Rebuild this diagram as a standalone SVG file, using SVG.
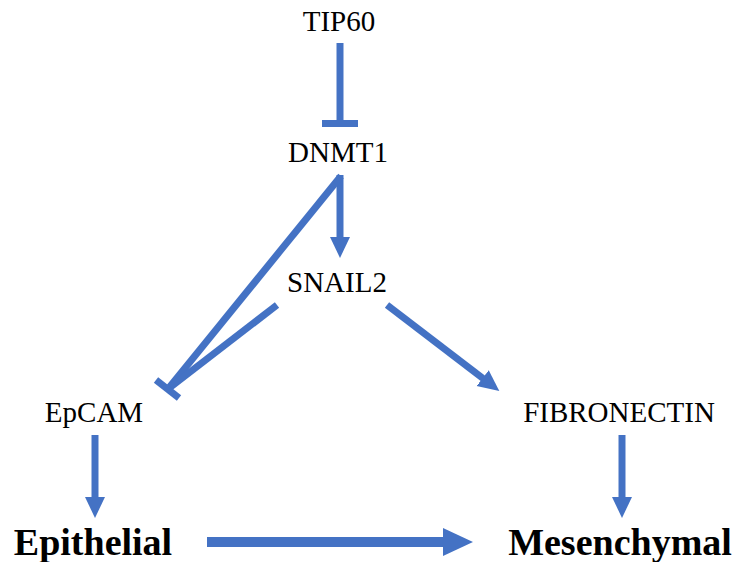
<svg xmlns="http://www.w3.org/2000/svg" width="737" height="562" viewBox="0 0 737 562">
<style>
.lbl{font-family:"Liberation Serif","Times New Roman",serif;font-size:29px;fill:#000;text-anchor:middle}
.big{font-family:"Liberation Serif","Times New Roman",serif;font-size:38px;font-weight:bold;fill:#000;text-anchor:middle}
.c{stroke:#4472C4;stroke-width:7;fill:none}
</style>
<defs>
<marker id="ah" markerUnits="userSpaceOnUse" markerWidth="22" markerHeight="22" refX="8" refY="10" orient="auto" viewBox="0 0 22 20">
<path d="M0,0 L21,10 L0,20 z" fill="#4472C4"/>
</marker>
<marker id="ahBig" markerUnits="userSpaceOnUse" markerWidth="32" markerHeight="30" refX="2" refY="14" orient="auto" viewBox="0 0 32 28">
<path d="M0,0 L30,14 L0,28 z" fill="#4472C4"/>
</marker>
</defs>
<rect width="737" height="562" fill="#fff"/>
<g id="connectors">
<line class="c" x1="340" y1="43" x2="340" y2="123"/>
<line class="c" x1="322" y1="123.5" x2="358" y2="123.5"/>
<line class="c" x1="340" y1="175" x2="340" y2="245" marker-end="url(#ah)"/>
<line class="c" x1="341" y1="176" x2="168" y2="389"/>
<line class="c" x1="277" y1="305" x2="168" y2="389"/>
<line class="c" x1="156" y1="380" x2="179" y2="398"/>
<line class="c" x1="387" y1="305" x2="489" y2="383" marker-end="url(#ah)"/>
<line class="c" x1="95" y1="435" x2="95" y2="505" marker-end="url(#ah)"/>
<line class="c" x1="622" y1="435" x2="622" y2="505" marker-end="url(#ah)"/>
<line class="c" style="stroke-width:10" x1="207" y1="542" x2="445" y2="542" marker-end="url(#ahBig)"/>
</g>
<g id="tip60"><text class="lbl" x="339" y="31">TIP60</text></g>
<g id="dnmt1"><text class="lbl" x="338" y="162">DNMT1</text></g>
<g id="snail2"><text class="lbl" x="337" y="292">SNAIL2</text></g>
<g id="epcam"><text class="lbl" x="94" y="422">EpCAM</text></g>
<g id="fibronectin"><text class="lbl" x="619" y="422">FIBRONECTIN</text></g>
<g id="epithelial"><text class="big" x="93" y="555">Epithelial</text></g>
<g id="mesenchymal"><text class="big" x="620" y="555">Mesenchymal</text></g>
</svg>
